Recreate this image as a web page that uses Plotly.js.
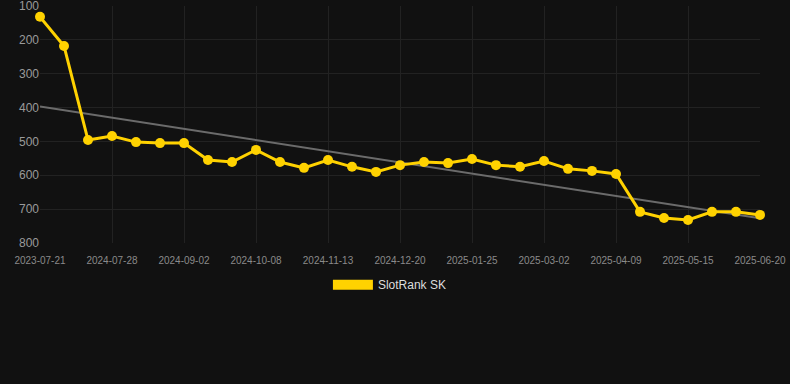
<!DOCTYPE html>
<html>
<head>
<meta charset="utf-8">
<script src="https://cdn.plot.ly/plotly-3.0.1.min.js"></script>
<style>
html,body{margin:0;padding:0;background:#111111;}
#chart{width:790px;height:384px;}
</style>
</head>
<body>
<div id="chart"></div>
<script>
const seriesName = "SlotRank SK";
const rankValues = [132, 218, 496, 484, 502, 505, 505, 555, 561, 525, 561, 578, 555, 575, 590, 570, 561, 564, 552, 570, 575, 558, 581, 587, 596, 708, 726, 732, 708, 708, 717];
const pointIndex = rankValues.map((v, i) => i);
const tickPositions = [0, 3, 6, 9, 12, 15, 18, 21, 24, 27, 30];
const tickLabels = ["2023-07-21", "2024-07-28", "2024-09-02", "2024-10-08", "2024-11-13", "2024-12-20", "2025-01-25", "2025-03-02", "2025-04-09", "2025-05-15", "2025-06-20"];
const trendX = [0, 30];
const trendValues = [397, 727];
const yTicks = [100, 200, 300, 400, 500, 600, 700, 800];

const gold = "#FFD200";

const traces = [
  {
    x: trendX, y: trendValues, type: "scatter", mode: "lines",
    line: {color: "#6b6b6b", width: 2}, showlegend: false, hoverinfo: "skip", cliponaxis: false
  },
  {
    x: pointIndex, y: rankValues, type: "scatter", mode: "lines+markers",
    line: {color: gold, width: 3}, marker: {color: gold, size: 10},
    showlegend: false, cliponaxis: false, name: seriesName
  },
  {
    x: [null], y: [null], type: "scatter", mode: "lines",
    line: {color: gold, width: 12}, name: seriesName, showlegend: true
  }
];

const layout = {
  width: 790, height: 384,
  paper_bgcolor: "#111111", plot_bgcolor: "#111111",
  margin: {l: 40, r: 30, t: 6, b: 141},
  font: {family: "Liberation Sans, Arial, sans-serif", color: "#999999"},
  xaxis: {
    range: [0, 30], tickmode: "array", tickvals: tickPositions, ticktext: tickLabels,
    showgrid: true, gridcolor: "#222222", zeroline: false, showline: false,
    tickfont: {size: 10, color: "#8a8a8a"}, ticks: "outside", ticklen: 8, tickcolor: "rgba(0,0,0,0)",
    fixedrange: true
  },
  yaxis: {
    range: [800, 100], tickmode: "array", tickvals: yTicks,
    showgrid: true, gridcolor: "#222222", zeroline: false, showline: false,
    tickfont: {size: 12, color: "#9a9a9a"}, ticks: "", ticklabeloverflow: "allow", fixedrange: true
  },
  showlegend: true,
  legend: {
    orientation: "h", x: 0.486, xanchor: "center", y: -0.115, yanchor: "top",
    font: {size: 12, color: "#dddddd"}, bgcolor: "rgba(0,0,0,0)", itemwidth: 40
  }
};

Plotly.newPlot("chart", traces, layout, {displayModeBar: false, staticPlot: true});
</script>
</body>
</html>
